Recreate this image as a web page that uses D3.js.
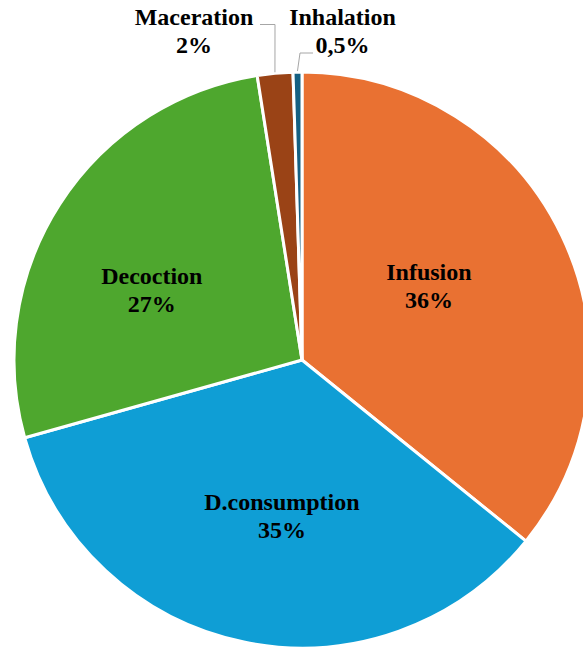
<!DOCTYPE html>
<html>
<head>
<meta charset="utf-8">
<script src="https://cdn.jsdelivr.net/npm/d3@7"></script>
<style>
  html, body { margin: 0; padding: 0; background: #fff; }
  svg { display: block; }
  text { font-family: "Liberation Serif", "Times New Roman", serif; font-weight: bold; font-size: 24px; fill: #000; }
</style>
</head>
<body>
<svg id="chart" width="583" height="649"></svg>
<script>
// Share of preparation methods (%)
const categories = ["Infusion", "D.consumption", "Decoction", "Maceration", "Inhalation"];
const values = [36, 35, 27, 2, 0.5];
const valueLabels = ["36%", "35%", "27%", "2%", "0,5%"];
const colors = ["#E97132", "#0F9ED5", "#4EA72E", "#9A4316", "#156082"];

// Label placement: inside labels sit near the slice centroid, small slices get leader lines
const W = 583, H = 649;
const cx = 302, cy = 360, R = 288;
const labelNudge = [[-3, -18], [9, 9], [-29, 2], null, null];
const outsideLabel = [null, null, null, [194, 25], [342.5, 25]];
const leaderPts = [null, null, null,
  [[66, -0.5], [81, -0.5]],
  [[-29.5, 28], [-42.5, 28]]];

const svg = d3.select("#chart");
svg.append("rect").attr("width", W).attr("height", H).attr("fill", "#fff");

const data = categories.map((c, i) => ({ name: c, value: values[i], label: valueLabels[i], color: colors[i], i }));

const pie = d3.pie().sort(null).value(d => d.value);
const arcs = pie(data);
const arc = d3.arc().innerRadius(0).outerRadius(R);
const labelArc = d3.arc().innerRadius(R * 0.5).outerRadius(R * 0.5);

const g = svg.append("g").attr("transform", `translate(${cx},${cy})`);

g.selectAll("path.slice")
  .data(arcs)
  .join("path")
  .attr("class", "slice")
  .attr("d", arc)
  .attr("fill", d => d.data.color)
  .attr("stroke", "#fff")
  .attr("stroke-width", 3)
  .attr("stroke-linejoin", "round");

// Leader lines for the small slices
arcs.forEach(d => {
  const k = d.data.i;
  if (!outsideLabel[k]) return;
  const [lx, ly] = outsideLabel[k];
  const mid = (d.startAngle + d.endAngle) / 2;
  const ax = cx + (R + 1) * Math.sin(mid);
  const ay = cy - (R + 1) * Math.cos(mid);
  const pts = leaderPts[k].map(([dx, dy]) => [lx + dx, ly + dy]);
  pts.push([ax, ay]);
  svg.append("path")
    .attr("d", d3.line()(pts))
    .attr("fill", "none")
    .attr("stroke", "#A6A6A6")
    .attr("stroke-width", 1);
});

// Category and percentage labels
arcs.forEach(d => {
  const k = d.data.i;
  let x, y;
  if (outsideLabel[k]) {
    [x, y] = outsideLabel[k];
  } else {
    const [px, py] = labelArc.centroid(d);
    x = cx + px + labelNudge[k][0];
    y = cy + py + labelNudge[k][1];
  }
  const t = svg.append("text").attr("text-anchor", "middle").attr("x", x).attr("y", y);
  t.append("tspan").attr("x", x).attr("dy", 0).text(d.data.name);
  t.append("tspan").attr("x", x).attr("dy", 28).text(d.data.label);
});
</script>
</body>
</html>
